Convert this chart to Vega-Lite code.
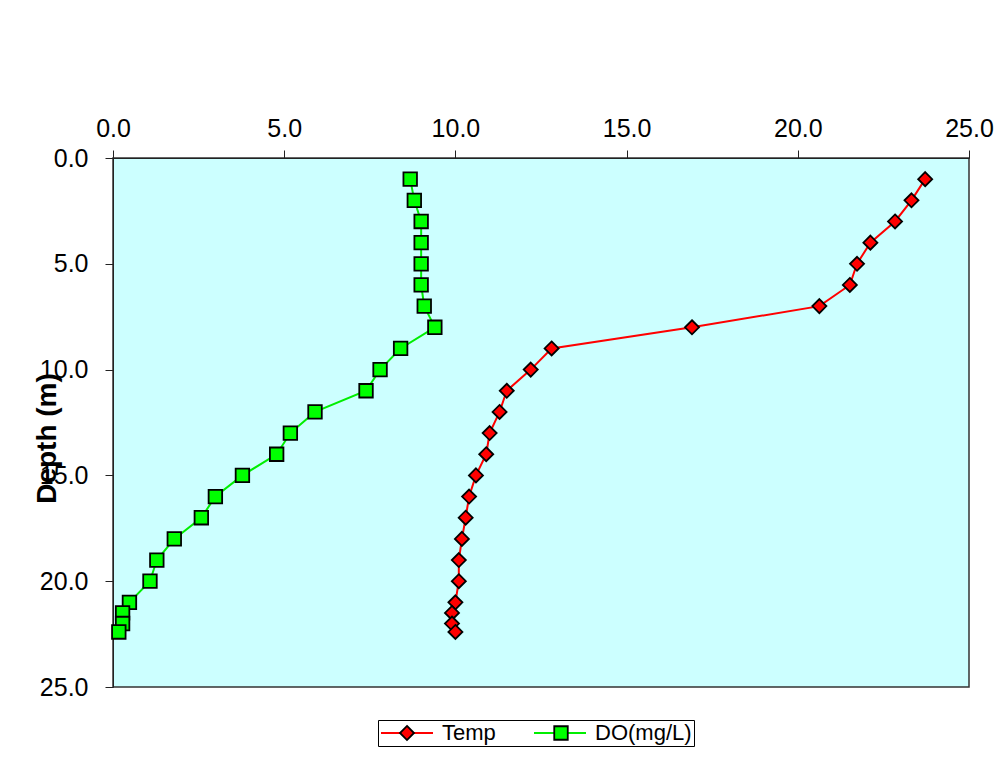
{
  "$schema": "https://vega.github.io/schema/vega-lite/v6.json",
  "width": 856,
  "height": 529,
  "autosize": {"type": "none"},
  "padding": {"left": 113, "top": 158, "right": 36, "bottom": 87},
  "background": "white",
  "config": {
    "font": "Liberation Sans",
    "view": {"fill": "#CCFFFF", "stroke": "#333333", "strokeWidth": 1.5},
    "axis": {
      "grid": false,
      "labelFont": "Liberation Sans",
      "labelFontSize": 25,
      "labelColor": "black",
      "labelFlush": false,
      "labelOverlap": false,
      "tickColor": "#222222",
      "tickSize": 8,
      "tickWidth": 1,
      "domainColor": "#222222",
      "domainWidth": 1
    }
  },
  "data": {
    "values": [
      {"depth": 1, "series": "Temp", "marker": "Temp", "value": 23.72},
      {"depth": 2, "series": "Temp", "marker": "Temp", "value": 23.32},
      {"depth": 3, "series": "Temp", "marker": "Temp", "value": 22.84},
      {"depth": 4, "series": "Temp", "marker": "Temp", "value": 22.12},
      {"depth": 5, "series": "Temp", "marker": "Temp", "value": 21.73},
      {"depth": 6, "series": "Temp", "marker": "Temp", "value": 21.52},
      {"depth": 7, "series": "Temp", "marker": "Temp", "value": 20.63},
      {"depth": 8, "series": "Temp", "marker": "Temp", "value": 16.91},
      {"depth": 9, "series": "Temp", "marker": "Temp", "value": 12.81},
      {"depth": 10, "series": "Temp", "marker": "Temp", "value": 12.2},
      {"depth": 11, "series": "Temp", "marker": "Temp", "value": 11.5},
      {"depth": 12, "series": "Temp", "marker": "Temp", "value": 11.29},
      {"depth": 13, "series": "Temp", "marker": "Temp", "value": 11.0},
      {"depth": 14, "series": "Temp", "marker": "Temp", "value": 10.9},
      {"depth": 15, "series": "Temp", "marker": "Temp", "value": 10.6},
      {"depth": 16, "series": "Temp", "marker": "Temp", "value": 10.4},
      {"depth": 17, "series": "Temp", "marker": "Temp", "value": 10.3},
      {"depth": 18, "series": "Temp", "marker": "Temp", "value": 10.19},
      {"depth": 19, "series": "Temp", "marker": "Temp", "value": 10.1},
      {"depth": 20, "series": "Temp", "marker": "Temp", "value": 10.1},
      {"depth": 21, "series": "Temp", "marker": "Temp", "value": 10.0},
      {"depth": 21.5, "series": "Temp", "marker": "Temp", "value": 9.9},
      {"depth": 22, "series": "Temp", "marker": "Temp", "value": 9.9},
      {"depth": 22.4, "series": "Temp", "marker": "Temp", "value": 10.0},
      {"depth": 1, "series": "DO(mg/L)", "marker": "DO(mg/L)", "value": 8.68},
      {"depth": 2, "series": "DO(mg/L)", "marker": "DO(mg/L)", "value": 8.8},
      {"depth": 3, "series": "DO(mg/L)", "marker": "DO(mg/L)", "value": 9.0},
      {"depth": 4, "series": "DO(mg/L)", "marker": "DO(mg/L)", "value": 9.0},
      {"depth": 5, "series": "DO(mg/L)", "marker": "DO(mg/L)", "value": 9.0},
      {"depth": 6, "series": "DO(mg/L)", "marker": "DO(mg/L)", "value": 9.0},
      {"depth": 7, "series": "DO(mg/L)", "marker": "DO(mg/L)", "value": 9.09},
      {"depth": 8, "series": "DO(mg/L)", "marker": "DO(mg/L)", "value": 9.4},
      {"depth": 9, "series": "DO(mg/L)", "marker": "DO(mg/L)", "value": 8.4},
      {"depth": 10, "series": "DO(mg/L)", "marker": "DO(mg/L)", "value": 7.8},
      {"depth": 11, "series": "DO(mg/L)", "marker": "DO(mg/L)", "value": 7.39},
      {"depth": 12, "series": "DO(mg/L)", "marker": "DO(mg/L)", "value": 5.9},
      {"depth": 13, "series": "DO(mg/L)", "marker": "DO(mg/L)", "value": 5.18},
      {"depth": 14, "series": "DO(mg/L)", "marker": "DO(mg/L)", "value": 4.78},
      {"depth": 15, "series": "DO(mg/L)", "marker": "DO(mg/L)", "value": 3.78},
      {"depth": 16, "series": "DO(mg/L)", "marker": "DO(mg/L)", "value": 2.99},
      {"depth": 17, "series": "DO(mg/L)", "marker": "DO(mg/L)", "value": 2.58},
      {"depth": 18, "series": "DO(mg/L)", "marker": "DO(mg/L)", "value": 1.79},
      {"depth": 19, "series": "DO(mg/L)", "marker": "DO(mg/L)", "value": 1.28},
      {"depth": 20, "series": "DO(mg/L)", "marker": "DO(mg/L)", "value": 1.08},
      {"depth": 21, "series": "DO(mg/L)", "marker": "DO(mg/L)", "value": 0.48},
      {"depth": 21.5, "series": "DO(mg/L)", "marker": "DO(mg/L)", "value": 0.28},
      {"depth": 22, "series": "DO(mg/L)", "marker": "DO(mg/L)", "value": 0.28},
      {"depth": 22.4, "series": "DO(mg/L)", "marker": "DO(mg/L)", "value": 0.17}
    ]
  },
  "encoding": {
    "x": {
      "field": "value",
      "type": "quantitative",
      "scale": {"domain": [0, 25], "nice": false, "zero": false},
      "axis": {
        "orient": "top",
        "title": null,
        "values": [0, 5, 10, 15, 20, 25],
        "format": ".1f",
        "labelPadding": 9
      }
    },
    "y": {
      "field": "depth",
      "type": "quantitative",
      "scale": {"domain": [0, 25], "nice": false, "reverse": true},
      "axis": {
        "orient": "left",
        "title": "Depth (m)",
        "values": [0, 5, 10, 15, 20, 25],
        "format": ".1f",
        "labelPadding": 17,
        "titleFont": "Liberation Sans",
        "titleFontSize": 28,
        "titleFontWeight": "bold",
        "titleColor": "black",
        "titleAngle": 270,
        "titleAlign": "center",
        "titleBaseline": "middle",
        "titleX": -66,
        "titleY": 280
      }
    }
  },
  "layer": [
    {
      "mark": {"type": "line", "strokeWidth": 2},
      "encoding": {
        "stroke": {
          "field": "series",
          "type": "nominal",
          "sort": ["Temp", "DO(mg/L)"],
          "scale": {"range": ["#FF0000", "#00EE00"]},
          "legend": {
            "orient": "none",
            "legendX": 265,
            "legendY": 562,
            "direction": "horizontal",
            "title": null,
            "symbolType": "stroke",
            "symbolSize": 2704,
            "symbolStrokeWidth": 2,
            "clipHeight": 22,
            "labelFont": "Liberation Sans",
            "labelFontSize": 22,
            "labelColor": "black",
            "labelOffset": 8,
            "columnPadding": 37,
            "padding": 2,
            "strokeColor": "black",
            "fillColor": "white"
          }
        },
        "order": {"field": "depth", "type": "quantitative"}
      }
    },
    {
      "mark": {"type": "point", "filled": true, "opacity": 1, "stroke": "black", "strokeWidth": 1.8, "size": 2704},
      "encoding": {
        "fill": {
          "field": "marker",
          "type": "nominal",
          "sort": ["Temp", "DO(mg/L)"],
          "scale": {"range": ["#FF0000", "#00FF00"]},
          "legend": null
        },
        "shape": {
          "field": "marker",
          "type": "nominal",
          "sort": ["Temp", "DO(mg/L)"],
          "scale": {
            "range": ["M0,-0.27L0.27,0L0,0.27L-0.27,0Z", "M-0.26,-0.26L0.26,-0.26L0.26,0.26L-0.26,0.26Z"]
          },
          "legend": {
            "orient": "none",
            "legendX": 265,
            "legendY": 562,
            "direction": "horizontal",
            "title": null,
            "symbolSize": 2704,
            "symbolFillColor": {"expr": "datum.value === 'Temp' ? '#FF0000' : '#00FF00'"},
            "symbolStrokeColor": "black",
            "symbolStrokeWidth": 1.8,
            "symbolOpacity": 1,
            "clipHeight": 22,
            "labelFont": "Liberation Sans",
            "labelFontSize": 22,
            "labelOffset": 8,
            "labelExpr": "''",
            "columnPadding": 92,
            "padding": 2
          }
        }
      }
    }
  ]
}
